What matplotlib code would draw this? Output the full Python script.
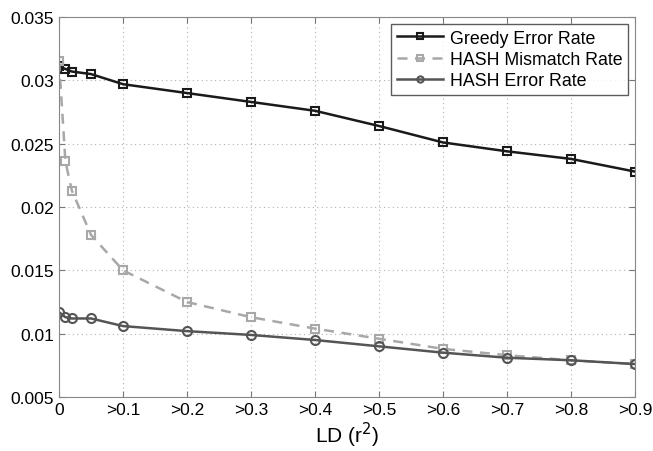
import numpy as np
import matplotlib.pyplot as plt

plt.rcParams['font.family'] = ['Liberation Sans', 'DejaVu Sans']

ld = [0, 0.01, 0.02, 0.05, 0.1, 0.2, 0.3, 0.4, 0.5, 0.6, 0.7, 0.8, 0.9]
greedy_err = [0.0311, 0.0309, 0.0307, 0.0305, 0.0297, 0.0290, 0.0283, 0.0276,
              0.0264, 0.0251, 0.0244, 0.0238, 0.0228]
hash_mismatch = [0.0315, 0.0236, 0.0213, 0.0178, 0.0150, 0.0125, 0.0113, 0.0104,
                 0.0096, 0.0088, 0.0083, 0.0079, 0.0076]
hash_err = [0.0117, 0.0113, 0.0112, 0.0112, 0.0106, 0.0102, 0.0099, 0.0095,
            0.0090, 0.0085, 0.0081, 0.0079, 0.0076]

xticks = [0, 0.1, 0.2, 0.3, 0.4, 0.5, 0.6, 0.7, 0.8, 0.9]
xticklabels = ['0', '>0.1', '>0.2', '>0.3', '>0.4', '>0.5', '>0.6', '>0.7', '>0.8', '>0.9']

fig = plt.figure(figsize=(6.53, 4.52), dpi=100)
ax = fig.add_axes([0.0904, 0.1195, 0.882, 0.8405])

ax.plot(ld, greedy_err, '-s', color='#1a1a1a', lw=1.8, ms=5.5, mfc='none', mew=1.5,
        label='Greedy Error Rate')
ax.plot(ld, hash_mismatch, '--s', color='#a8a8a8', lw=1.8, ms=5.5, mfc='none', mew=1.5,
        dashes=(4, 3), label='HASH Mismatch Rate')
ax.plot(ld, hash_err, '-o', color='#555555', lw=1.8, ms=6.5, mfc='none', mew=1.5,
        label='HASH Error Rate')

ax.set_xlim(0, 0.9)
ax.set_ylim(0.005, 0.035)
ax.set_xticks(xticks)
ax.set_xticklabels(xticklabels)
ax.set_yticks(np.arange(0.005, 0.0351, 0.005))
ax.set_yticklabels(['0.005', '0.01', '0.015', '0.02', '0.025', '0.03', '0.035'])
ax.tick_params(direction='in', top=True, right=True, labelsize=12.5, length=4, color='#777777')
for s in ax.spines.values():
    s.set_color('#888888')
ax.grid(True, ls=(0, (1, 3)), color='#b0b0b0', lw=0.8)
ax.set_xlabel('LD (r$^2$)', fontsize=15, labelpad=2)

leg = ax.legend(loc='upper right', fontsize=12.8, frameon=True, fancybox=False,
                edgecolor='#333333', borderaxespad=0.4, handlelength=2.6,
                handletextpad=0.4, labelspacing=0.25, borderpad=0.3)
leg.get_frame().set_linewidth(1.0)
for h in leg.get_lines():
    h.set_markersize(4.5)

fig.savefig('out.png', dpi=100)
